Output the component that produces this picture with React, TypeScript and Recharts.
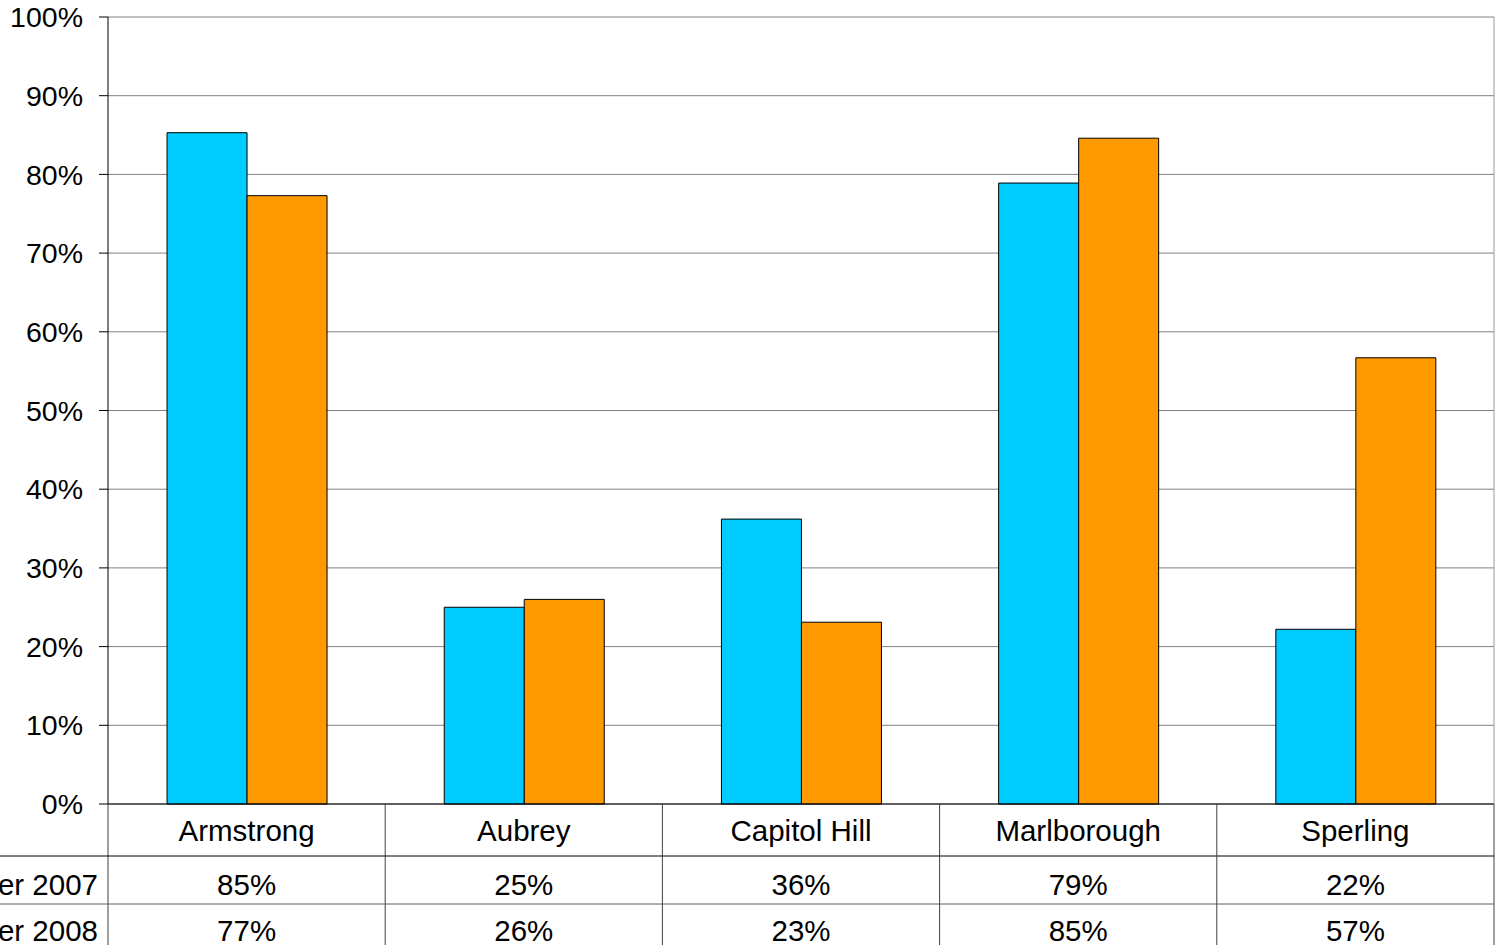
import React from "react"
import { Bar, BarChart, CartesianGrid, XAxis, YAxis } from "recharts"

const categories = ["Armstrong", "Aubrey", "Capitol Hill", "Marlborough", "Sperling"]
const values2007 = [0.853, 0.25, 0.362, 0.789, 0.222]
const values2008 = [0.773, 0.26, 0.231, 0.846, 0.567]
const rowLabels = ["er 2007", "er 2008"]
const yTicks = [0, 0.1, 0.2, 0.3, 0.4, 0.5, 0.6, 0.7, 0.8, 0.9, 1]

const FONT = "'Liberation Sans', Arial, sans-serif"
const BLUE = "#00CCFF"
const ORANGE = "#FF9900"

const data = categories.map((name, i) => ({
  name,
  s2007: values2007[i],
  s2008: values2008[i],
}))

const pct = (v: number) => `${Math.round(v * 100)}%`

// Excel-style data table under the plot, drawn cell by cell from the x band
function TableTick(props: any) {
  const { x, y, payload, index } = props
  const half = payload?.offset ?? 138.7
  const left = x - half
  const right = x + half
  const row1 = y + 52
  const row2 = y + 100
  const bottom = y + 160
  const i = payload?.index ?? index
  const isLast = i === categories.length - 1
  return (
    <g fontFamily={FONT} fontSize={29.5} fill="#000">
      <line x1={left} y1={y} x2={left} y2={bottom} stroke="#404040" />
      {isLast && <line x1={right} y1={y} x2={right} y2={bottom} stroke="#404040" />}
      <line x1={i === 0 ? 0 : left} y1={row1} x2={right} y2={row1} stroke="#000" />
      <line x1={i === 0 ? 0 : left} y1={row2} x2={right} y2={row2} stroke="#606060" />
      <text x={x} y={y + 37} textAnchor="middle">{payload.value}</text>
      <text x={x} y={y + 91} textAnchor="middle">{pct(values2007[i])}</text>
      <text x={x} y={y + 137} textAnchor="middle">{pct(values2008[i])}</text>
      {i === 0 &&
        rowLabels.map((lbl, k) => (
          <text key={lbl} x={left - 10} y={y + (k === 0 ? 91 : 137)} textAnchor="end">
            {lbl}
          </text>
        ))}
    </g>
  )
}

export default function App() {
  return (
    <div style={{ width: 1500, height: 945, background: "#fff", overflow: "hidden" }}>
      <style>{"body{margin:0}"}</style>
      <BarChart
        width={1500}
        height={945}
        data={data}
        margin={{ top: 17, right: 0, left: 0, bottom: 0 }}
        barCategoryGap="21.3%"
        barGap={0}
      >
        <CartesianGrid stroke="#808080" vertical={false} />
        <XAxis
          dataKey="name"
          axisLine={{ stroke: "#000" }}
          tickLine={false}
          tickSize={0}
          tickMargin={0}
          interval={0}
          height={141}
          tick={<TableTick />}
        />
        <YAxis
          domain={[0, 1]}
          ticks={yTicks}
          width={108}
          tickFormatter={pct}
          axisLine={{ stroke: "#000" }}
          tickLine={{ stroke: "#000" }}
          tickSize={9}
          tickMargin={16}
          tick={{ fill: "#000", fontSize: 28.5, fontFamily: FONT }}
          interval={0}
        />
        <YAxis
          yAxisId="r"
          orientation="right"
          domain={[0, 1]}
          width={6}
          tick={false}
          tickLine={false}
          axisLine={{ stroke: "#999" }}
        />
        <Bar dataKey="s2007" fill={BLUE} stroke="#000" strokeWidth={1} isAnimationActive={false} />
        <Bar dataKey="s2008" fill={ORANGE} stroke="#000" strokeWidth={1} isAnimationActive={false} />
      </BarChart>
    </div>
  )
}
